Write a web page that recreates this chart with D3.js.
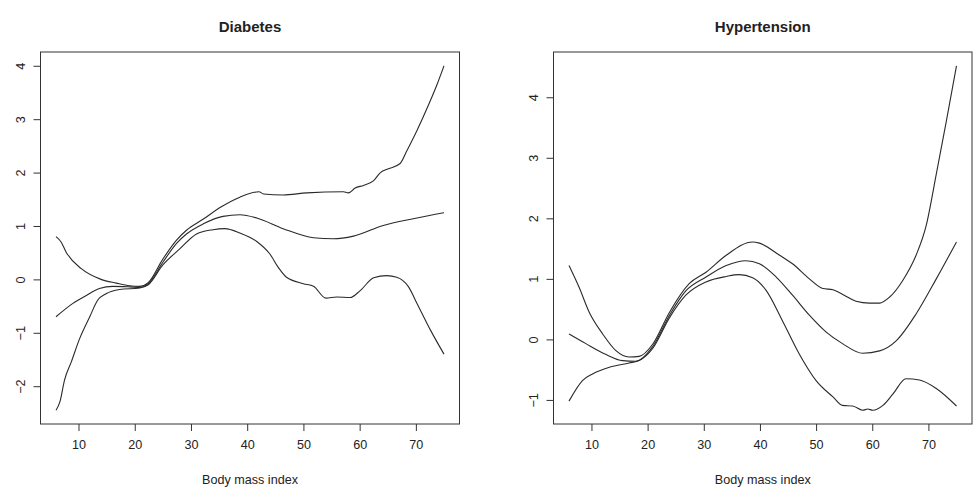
<!DOCTYPE html>
<html>
<head>
<meta charset="UTF-8">
<title>BMI splines</title>
<script src="https://d3js.org/d3.v7.min.js"></script>
<style>
  body { margin: 0; background: #fff; }
  text { font-family: "Liberation Sans", Arial, sans-serif; fill: #222; }
</style>
</head>
<body>
<svg id="chart" width="974" height="487"></svg>
<script>
// [bmi, log-odds]
const diabetesUpper = [[6,0.80],[6.9,0.70],[7.8,0.51],[10.5,0.20],[14,0.0],[16.7,-0.07],[19.1,-0.12],[20.9,-0.13],[22.4,-0.06],[25,0.38],[27.4,0.73],[29.2,0.92],[32.2,1.13],[35.4,1.36],[38.7,1.54],[42.1,1.64],[42.9,1.60],[46.4,1.58],[50.6,1.62],[57.1,1.64],[58,1.62],[59.2,1.71],[60.7,1.76],[62.5,1.85],[63.7,2.0],[65.1,2.07],[67.2,2.17],[68.4,2.41],[70.2,2.79],[72.3,3.28],[73.8,3.66],[75,4.0]];
const diabetesFit = [[6,-0.70],[9,-0.45],[11.4,-0.30],[13.7,-0.17],[16.1,-0.13],[19.1,-0.14],[20.9,-0.15],[22.4,-0.08],[25,0.32],[27.4,0.67],[29.2,0.85],[32.2,1.04],[35.7,1.18],[38.7,1.21],[41.7,1.15],[46.4,0.95],[51.8,0.78],[55.3,0.76],[58.9,0.81],[64.2,1.01],[70.2,1.15],[75,1.25]];
const diabetesLower = [[6,-2.45],[6.7,-2.29],[7.5,-1.89],[8.7,-1.55],[10.2,-1.11],[12,-0.70],[13.4,-0.39],[14.9,-0.27],[17.3,-0.19],[20.9,-0.16],[22.4,-0.10],[25,0.27],[28,0.57],[31,0.85],[33.9,0.93],[36,0.95],[38.7,0.87],[41.7,0.71],[44,0.48],[45.5,0.23],[47,0.04],[50,-0.08],[51.8,-0.13],[54,-0.35],[55.9,-0.33],[58.3,-0.34],[60.1,-0.21],[62.5,0.03],[64.8,0.07],[66.6,0.04],[68.7,-0.14],[70.2,-0.45],[72.6,-0.95],[75,-1.40]];

const hyperUpper = [[6,1.22],[7.8,0.86],[9.6,0.45],[12,0.09],[14.3,-0.18],[16.7,-0.29],[18.5,-0.28],[20.9,-0.08],[23.9,0.45],[27.4,0.92],[30.4,1.11],[34,1.39],[38.7,1.61],[39.9,1.59],[43.5,1.39],[45.8,1.25],[48.8,1.0],[51.2,0.84],[53,0.82],[55,0.73],[57.1,0.63],[59.5,0.60],[61.3,0.60],[63.1,0.70],[65.4,0.97],[67.8,1.39],[69.6,1.88],[71.4,2.73],[73.2,3.61],[75,4.52]];
const hyperFit = [[6,0.09],[9,-0.07],[12.6,-0.25],[15.5,-0.35],[17.9,-0.36],[20.9,-0.12],[23.9,0.40],[26.8,0.80],[30.4,1.03],[34,1.22],[37.5,1.30],[39.9,1.25],[42.9,1.03],[45.8,0.73],[48.8,0.40],[51.8,0.12],[54.7,-0.07],[58.3,-0.23],[61.3,-0.19],[64.3,-0.02],[67.8,0.42],[71.4,1.0],[75,1.61]];
const hyperLower = [[6,-1.02],[8.4,-0.68],[10.2,-0.57],[13.2,-0.46],[16.7,-0.39],[18.5,-0.35],[20.9,-0.15],[23.9,0.36],[26.8,0.73],[30.4,0.95],[34,1.04],[36.3,1.07],[38.7,1.02],[41.1,0.81],[44,0.31],[47,-0.24],[50,-0.68],[53,-0.95],[54.7,-1.09],[56.5,-1.10],[58.3,-1.17],[59.2,-1.15],[60.1,-1.17],[61.9,-1.09],[63.7,-0.90],[66,-0.65],[68.4,-0.67],[71.4,-0.81],[75,-1.10]];

const xTicks = [10, 20, 30, 40, 50, 60, 70];
const diabetesYTicks = [-2, -1, 0, 1, 2, 3, 4];
const hyperYTicks = [-1, 0, 1, 2, 3, 4];

const svg = d3.select("#chart");

// R style: extend range by 4% on each side
function padded(ext) {
  let d = (ext[1] - ext[0]) * 0.04;
  return [ext[0] - d, ext[1] + d];
}

function panel(left, right, title, series, yTicks) {
  let top = 52, bottom = 424;
  let all = series.flat();
  let x = d3.scaleLinear().domain(padded(d3.extent(all, d => d[0]))).range([left, right]);
  let y = d3.scaleLinear().domain(padded(d3.extent(all, d => d[1]))).range([bottom, top]);

  let g = svg.append("g");

  let line = d3.line()
    .x(d => x(d[0]))
    .y(d => y(d[1]))
    .curve(d3.curveMonotoneX);

  series.forEach(s => {
    g.append("path")
      .attr("d", line(s))
      .attr("fill", "none")
      .attr("stroke", "#2a2a2a")
      .attr("stroke-width", 1.1);
  });

  // x axis
  let xa = g.append("g")
    .attr("transform", "translate(0," + bottom + ")")
    .call(d3.axisBottom(x).tickValues(xTicks).tickSize(7).tickPadding(9));
  xa.select(".domain").remove();
  xa.selectAll("line").attr("stroke", "#333");
  xa.selectAll("text").attr("font-size", "12.6px").attr("fill", "#222")
    .style("font-family", "'Liberation Sans', Arial, sans-serif");

  // y axis, labels rotated like R's default
  let ya = g.append("g")
    .attr("transform", "translate(" + left + ",0)")
    .call(d3.axisLeft(y).tickValues(yTicks).tickSize(7).tickFormat(d3.format("d")));
  ya.select(".domain").remove();
  ya.selectAll("line").attr("stroke", "#333");
  ya.selectAll("text")
    .attr("x", null).attr("dy", null)
    .attr("text-anchor", "middle")
    .attr("transform", "translate(-15.5,0) rotate(-90)")
    .attr("font-size", "12.6px").attr("fill", "#222")
    .style("font-family", "'Liberation Sans', Arial, sans-serif");
  ya.selectAll(".tick").each(function () {
    d3.select(this).select("text").attr("y", 0).attr("transform", "translate(-15.5,0) rotate(-90)");
  });

  // plot box
  g.append("rect")
    .attr("x", left).attr("y", top)
    .attr("width", right - left).attr("height", bottom - top)
    .attr("fill", "none").attr("stroke", "#333").attr("stroke-width", 1);

  g.append("text")
    .attr("x", (left + right) / 2).attr("y", 32)
    .attr("text-anchor", "middle")
    .attr("font-size", "15px").attr("font-weight", "bold")
    .text(title);

  g.append("text")
    .attr("x", (left + right) / 2).attr("y", 483.5)
    .attr("text-anchor", "middle")
    .attr("font-size", "12.6px")
    .text("Body mass index");
}

panel(40.5, 459.5, "Diabetes", [diabetesUpper, diabetesFit, diabetesLower], diabetesYTicks);
panel(553.5, 972, "Hypertension", [hyperUpper, hyperFit, hyperLower], hyperYTicks);
</script>
</body>
</html>
